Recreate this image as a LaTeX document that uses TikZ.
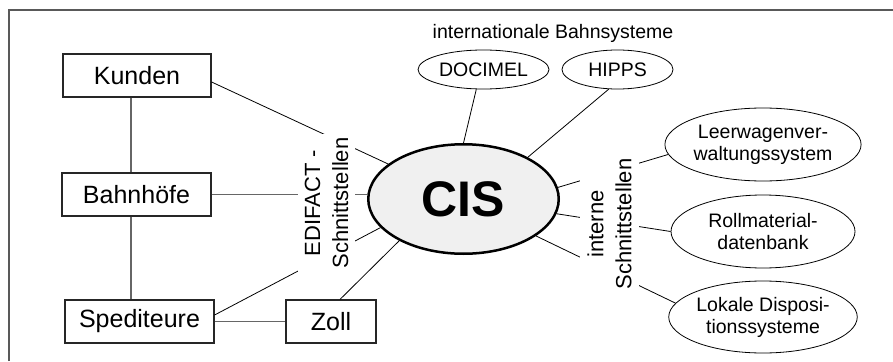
\documentclass[tikz,border=0pt]{standalone}
\usepackage{fontspec}
\setmainfont{Liberation Sans}
\usetikzlibrary{shapes.geometric,calc}
\begin{document}
\begin{tikzpicture}[x=1pt,y=-1pt,
  box/.style={draw=black!85, line width=1.2pt, minimum height=43pt, inner sep=0pt, font=\fontsize{25}{30}\selectfont},
  oval/.style={draw, ellipse, line width=0.8pt, inner sep=0pt, align=center, font=\fontsize{19.5}{22}\selectfont},
  link/.style={line width=0.8pt},
  glink/.style={draw=black!60, line width=1.6pt},
  iface/.style={rotate=90, align=center, fill=white, inner xsep=4pt, inner ysep=7pt, font=\fontsize{22}{28}\selectfont}]
\useasboundingbox (0,0) rectangle (893,361);
\fill[white] (0,0) rectangle (893,361);
% frame
\draw[black!65, line width=1.2pt] (9,361) -- (9,10) -- (893,10);

% left boxes
\node[box, minimum width=148pt] (kunden) at (137,75.5) {Kunden};
\node[box, minimum width=149pt] (bahn) at (136.5,194.5) {Bahnhöfe};
\node[box, minimum width=149pt] (sped) at (139.5,321.5) {Spediteure};
\node[box, minimum width=90pt] (zoll) at (331,321.5) {Zoll};

% central ellipse
\node[draw, ellipse, line width=2.5pt, fill=black!6, minimum width=190.5pt, minimum height=109.5pt, inner sep=0pt,
      font=\bfseries\fontsize{50}{60}\selectfont] (cis) at (463.5,199) {CIS};

% top
\node[font=\fontsize{19.5}{22}\selectfont] (title) at (553,33) {internationale Bahnsysteme};
\node[oval, minimum width=131pt, minimum height=39pt] (doc) at (483.5,69.5) {DOCIMEL};
\node[oval, minimum width=111pt, minimum height=39pt] (hipps) at (617.5,69.5) {HIPPS};

% right ellipses
\node[oval, minimum width=184pt, minimum height=73pt] (leer) at (763,144.5) {Leerwagenver-\\waltungssystem};
\node[oval, minimum width=184pt, minimum height=73pt] (roll) at (763,231.5) {Rollmaterial-\\datenbank};
\node[oval, minimum width=183pt, minimum height=72pt] (lok) at (763,317) {Lokale Disposi-\\tionssysteme};

\coordinate (vx) at (131,0);

% gray connectors
\draw[glink] (kunden.south -| vx) -- (bahn.north -| vx);
\draw[glink] (bahn.south -| vx) -- (sped.north -| vx);
\draw[glink] (bahn.east) -- (bahn.east -| cis.west);
\draw[glink] (sped.east) -- (zoll.west);

% thin connectors
\draw[link] ([yshift=-6.5pt]kunden.east) -- (cis);
\draw[link] ([yshift=6.5pt]sped.east) -- (cis.199);
\draw[link] ([xshift=9pt]zoll.north) -- (cis.213);
\draw[link] (doc.250) -- (cis.north);
\draw[link] (hipps.246) -- (cis.33);
\draw[link] (cis.7) -- (leer.186);
\draw[link] (cis.351) -- (roll.west);
\draw[link] (cis.333) -- (lok.171);

% interface labels
\node[iface] (edi) at (326.5,203) {EDIFACT -\\Schnittstellen};
\node[iface] (int) at (609.5,224) {interne\\Schnittstellen};
\end{tikzpicture}
\end{document}
